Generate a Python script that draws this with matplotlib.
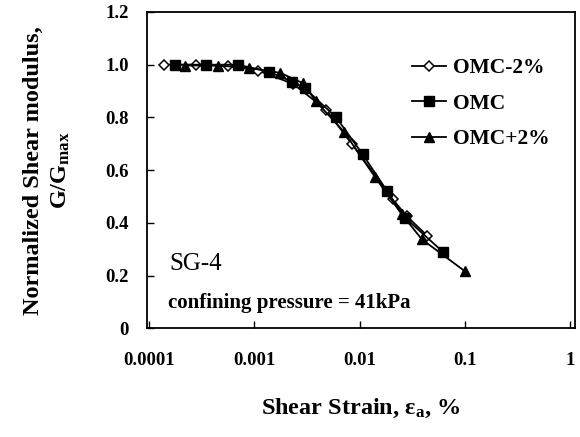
import numpy as np
import matplotlib
matplotlib.use("Agg")
import matplotlib.pyplot as plt
from matplotlib.ticker import NullLocator

plt.rcParams['font.family'] = ['Liberation Serif', 'DejaVu Serif']
plt.rcParams['mathtext.fontset'] = 'custom'
plt.rcParams['mathtext.rm'] = 'Liberation Serif:bold'
plt.rcParams['mathtext.it'] = 'Liberation Serif:bold'
plt.rcParams['mathtext.bf'] = 'Liberation Serif:bold'

# OMC-2% (open diamonds)
strain_m2 = [1.4e-4, 2.8e-4, 5.6e-4, 1.08e-3, 2.35e-3, 4.8e-3, 8.5e-3, 2.06e-2, 2.8e-2, 4.4e-2]
g_m2 = [1.0, 1.0, 0.995, 0.978, 0.927, 0.829, 0.698, 0.49, 0.426, 0.351]

# OMC (squares)
strain_0 = [1.75e-4, 3.5e-4, 7.0e-4, 1.39e-3, 2.3e-3, 3.0e-3, 6.0e-3, 1.07e-2, 1.83e-2, 2.7e-2, 6.2e-2]
g_0 = [1.0, 1.0, 1.0, 0.973, 0.935, 0.912, 0.80, 0.66, 0.52, 0.42, 0.29]

# OMC+2% (triangles)
strain_p2 = [2.2e-4, 4.5e-4, 9.0e-4, 1.77e-3, 2.9e-3, 3.85e-3, 7.1e-3, 1.4e-2, 2.5e-2, 3.9e-2, 0.1]
g_p2 = [0.997, 0.997, 0.988, 0.969, 0.93, 0.861, 0.746, 0.574, 0.434, 0.338, 0.217]

xticks = [1e-4, 1e-3, 1e-2, 1e-1, 1]
xtick_labels = ['0.0001', '0.001', '0.01', '0.1', '1']
yticks = [0, 0.2, 0.4, 0.6, 0.8, 1.0, 1.2]
ytick_labels = ['0', '0.2', '0.4', '0.6', '0.8', '1.0', '1.2']

fig = plt.figure(figsize=(5.8, 4.37), dpi=100)
ax = fig.add_axes([0.2534, 0.2483, 0.738, 0.7243])

ax.plot(strain_m2, g_m2, '-', color='black', lw=1.3, marker='D', ms=5.5,
        mfc='white', mec='black', mew=1.1, label='OMC-2%')
ax.plot(strain_0, g_0, '-', color='black', lw=1.3, marker='s', ms=6.5,
        mfc='black', mec='black', label='OMC')
ax.plot(strain_p2, g_p2, '-', color='black', lw=1.3, marker='^', ms=7.5,
        mfc='black', mec='black', label='OMC+2%')

ax.set_xscale('log')
ax.set_xlim(10 ** -4.019, 10 ** 0.045)
ax.set_ylim(0, 1.2)
ax.set_xticks(xticks)
ax.set_xticklabels(xtick_labels)
ax.xaxis.set_minor_locator(NullLocator())
ax.set_yticks(yticks)
ax.set_yticklabels(ytick_labels)
ax.tick_params(direction='in', length=5, width=1, labelsize=13.5)
ax.tick_params(axis='x', pad=17)
ax.tick_params(axis='y', pad=13)
for lab in ax.get_xticklabels() + ax.get_yticklabels():
    lab.set_fontweight('bold')
for sp in ax.spines.values():
    sp.set_linewidth(1.3)

ax.set_xlabel('Shear Strain, $\\mathregular{\\epsilon_a}$, %', fontsize=17.5,
              fontweight='bold', labelpad=20)
ax.set_ylabel('Normalized Shear modulus,\nG/G$_{\\mathregular{max}}$', fontsize=17.5,
              fontweight='bold', labelpad=24, linespacing=1.35)

ax.text(0.053, 0.185, 'SG-4', transform=ax.transAxes, fontsize=18)
ax.text(0.048, 0.065, 'confining pressure = 41kPa', transform=ax.transAxes,
        fontsize=15, fontweight='bold')

leg = ax.legend(loc='upper right', bbox_to_anchor=(0.985, 0.915), frameon=False,
                prop={'family': 'Liberation Serif', 'weight': 'bold', 'size': 15.5},
                handlelength=1.6, handletextpad=0.3, labelspacing=0.72)

fig.savefig('out.png', dpi=100)
